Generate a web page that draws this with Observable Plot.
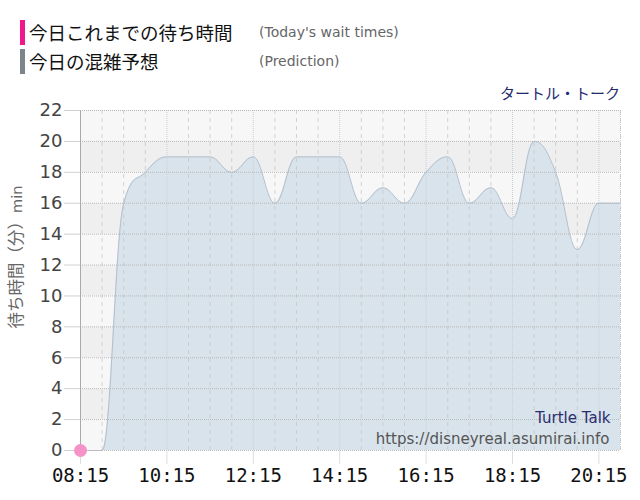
<!DOCTYPE html>
<html>
<head>
<meta charset="utf-8">
<script src="https://cdn.jsdelivr.net/npm/d3@7"></script>
<script src="https://cdn.jsdelivr.net/npm/@observablehq/plot@0.6"></script>
<style>
  body { margin: 0; background: #fff; }
  #wrap { position: relative; width: 640px; height: 500px; overflow: hidden; }
  #head { position: relative; width: 640px; height: 100px; }
  .bar { position: absolute; left: 20px; width: 5px; height: 25px; }
  .jp { position: absolute; left: 29px; font-family: "Noto Sans CJK JP", sans-serif; font-size: 18.5px; color: #111; line-height: 1; transform: translateY(-50%); white-space: nowrap; }
  .en { position: absolute; left: 259px; font-family: "DejaVu Sans", sans-serif; font-size: 14px; color: #666; transform: translateY(-50%); white-space: nowrap; }
  #attr { position: absolute; right: 20px; top: 92px; transform: translateY(-50%); font-family: "Noto Sans CJK JP", sans-serif; font-size: 15px; color: #222a6e; white-space: nowrap; }
  #ylab { position: absolute; left: 15px; top: 257px; transform: translate(-50%, -50%) rotate(-90deg); font-family: "Noto Sans CJK JP", sans-serif; font-size: 16.5px; color: #666; white-space: nowrap; }
  #ylab small { font-family: "DejaVu Sans", sans-serif; font-size: 14.5px; }
  #chart { position: absolute; left: 0; top: 100px; }
</style>
</head>
<body>
<div id="wrap">
  <div id="head">
    <div class="bar" style="top:20px;background:#f0168c"></div>
    <div class="jp" style="top:32px">今日これまでの待ち時間</div>
    <div class="en" style="top:32px">(Today's wait times)</div>
    <div class="bar" style="top:49px;background:#7c848c"></div>
    <div class="jp" style="top:61px">今日の混雑予想</div>
    <div class="en" style="top:61px">(Prediction)</div>
  </div>
  <div id="attr">タートル・トーク</div>
  <div id="ylab">待ち時間（分）<small>min</small></div>
  <div id="chart"></div>
</div>
<script>
// ---- data ----
const times = ["08:15","08:45","09:15","09:45","10:15","10:45","11:15","11:45","12:15","12:45","13:15","13:45","14:15","14:45","15:15","15:45","16:15","16:45","17:15","17:45","18:15","18:45","19:15","19:45","20:15","20:45"];
const predicted = [0,0,16,18,19,19,19,18,19,16,19,19,19,16,17,16,18,19,16,17,15,20,18,13,16,16];
const todayTimes = ["08:15"];
const todayValues = [0];
const xTickLabels = ["08:15","10:15","12:15","14:15","16:15","18:15","20:15"];
const yTicks = [0,2,4,6,8,10,12,14,16,18,20,22];
const watermarkName = "Turtle Talk";
const watermarkUrl = "https://disneyreal.asumirai.info";

// ---- helpers ----
const toMin = s => (+s.slice(0, 2)) * 60 + (+s.slice(3));
const fmt = m => String(Math.floor(m / 60)).padStart(2, "0") + ":" + String(m % 60).padStart(2, "0");

// spline curve with smoothing 1.5 and clamped extremes (d3 curve interface)
function SplineCurve(context) { this._context = context; }
SplineCurve.prototype = {
  areaStart() { this._line = 0; },
  areaEnd() { this._line = NaN; },
  lineStart() { this._pts = []; },
  point(x, y) { this._pts.push([+x, +y]); },
  lineEnd() {
    const ctx = this._context, p = this._pts, n = p.length;
    if (n) {
      if (this._line) ctx.lineTo(p[0][0], p[0][1]); else ctx.moveTo(p[0][0], p[0][1]);
      const sm = 1.5, den = sm + 1;
      const rc = [], lc = [];
      for (let i = 0; i < n; i++) {
        const [px, py] = p[i];
        if (i > 0 && i < n - 1) {
          const [lx, ly] = p[i - 1], [nx, ny] = p[i + 1];
          let lcx = (sm * px + lx) / den, lcy = (sm * py + ly) / den;
          let rcx = (sm * px + nx) / den, rcy = (sm * py + ny) / den;
          let corr = 0;
          if (rcx !== lcx) corr = ((rcy - lcy) * (rcx - px)) / (rcx - lcx) + py - rcy;
          lcy += corr; rcy += corr;
          if (lcy > ly && lcy > py) { lcy = Math.max(ly, py); rcy = 2 * py - lcy; }
          else if (lcy < ly && lcy < py) { lcy = Math.min(ly, py); rcy = 2 * py - lcy; }
          if (rcy > ny && rcy > py) { rcy = Math.max(ny, py); lcy = 2 * py - rcy; }
          else if (rcy < ny && rcy < py) { rcy = Math.min(ny, py); lcy = 2 * py - rcy; }
          lc[i] = [lcx, lcy]; rc[i] = [rcx, rcy];
        } else { lc[i] = [px, py]; rc[i] = [px, py]; }
      }
      for (let i = 1; i < n; i++) {
        ctx.bezierCurveTo(rc[i - 1][0], rc[i - 1][1], lc[i][0], lc[i][1], p[i][0], p[i][1]);
      }
    }
    if (this._line || (this._line !== 0 && n === 1)) ctx.closePath();
    this._line = 1 - this._line;
  }
};
const spline = context => new SplineCurve(context);

const pred = times.map((t, i) => ({t: toMin(t), v: predicted[i]}));
const today = todayTimes.map((t, i) => ({t: toMin(t), v: todayValues[i]}));
const xTicks = xTickLabels.map(toMin);
const halfHours = times.map(toMin).filter(m => !xTicks.includes(m));
const bands = yTicks.slice(0, -1);
const x0 = toMin(times[0]);
const x1 = toMin(times[times.length - 1]);

const chart = Plot.plot({
  width: 640,
  height: 400,
  marginTop: 10,
  marginBottom: 50,
  marginLeft: 80,
  marginRight: 20,
  x: {type: "linear", domain: [x0, x1], axis: null},
  y: {domain: [0, 22], axis: null},
  color: {type: "identity"},
  marks: [
    Plot.rect(bands, {y1: d => d, y2: d => d + 2, fill: d => (d / 2) % 2 === 0 ? "#f7f7f7" : "#efefef"}),
    Plot.areaY(pred, {x: "t", y: "v", curve: spline, fill: "#d6e1ea", fillOpacity: 0.95}),
    Plot.lineY(pred, {x: "t", y: "v", curve: spline, stroke: "#b3bfcb", strokeWidth: 1}),
    Plot.ruleX(halfHours, {stroke: "#c8c8c8", strokeDasharray: "4,4", strokeOpacity: 0.8}),
    Plot.ruleX(xTicks.slice(1), {stroke: "#c5cfd9", strokeDasharray: "1,1"}),
    Plot.ruleY(yTicks, {stroke: "#b8b8b8", strokeDasharray: "1,1"}),
    Plot.ruleX([x1], {stroke: "#c8c8c8", strokeDasharray: "1,1"}),
    Plot.ruleX([x0], {stroke: "#aaaaaa"}),
    Plot.axisY(yTicks, {tickSize: 16, tickPadding: 2, fontSize: 18, fontFamily: "DejaVu Sans", fill: "#444", stroke: "#d0d0d0", label: null}),
    Plot.axisX(xTicks, {tickSize: 14, tickPadding: 4, fontSize: 19, fontFamily: "DejaVu Sans Mono", fill: "#111", stroke: "#dddddd", tickFormat: fmt, label: null}),
    Plot.text([watermarkName], {frameAnchor: "bottom-right", dx: -10, dy: -28, fill: "#2b2e6e", fontSize: 15, fontFamily: "DejaVu Sans"}),
    Plot.text([watermarkUrl], {frameAnchor: "bottom-right", dx: -11, dy: -7, fill: "#555", fontSize: 15, fontFamily: "DejaVu Sans"}),
    Plot.dot(today, {x: "t", y: "v", r: 6.5, fill: "#f592c8"})
  ]
});
document.getElementById("chart").appendChild(chart);
</script>
</body>
</html>
